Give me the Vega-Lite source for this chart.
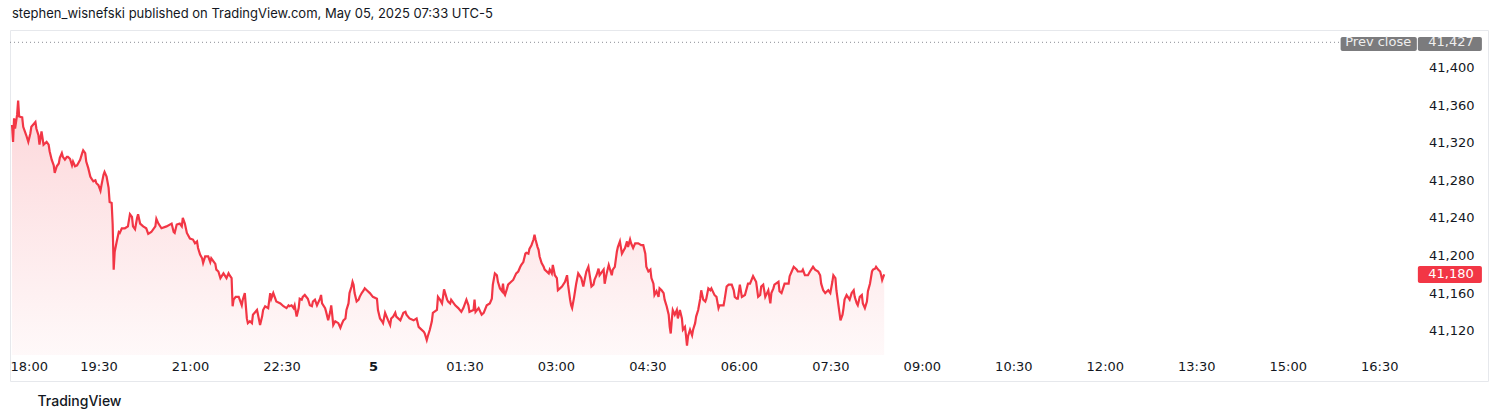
{
  "$schema": "https://vega.github.io/schema/vega-lite/v6.json",
  "width": 1478,
  "height": 351,
  "autosize": {"type": "none"},
  "padding": {"left": 10, "top": 30, "right": 12, "bottom": 39},
  "background": "#ffffff",
  "config": {"font": "Inter", "view": {"stroke": "#e6e8ec", "strokeWidth": 1}},
  "title": {
    "text": "stephen_wisnefski published on TradingView.com, May 05, 2025 07:33 UTC-5",
    "anchor": "start", "frame": "group", "offset": 9, "dx": 2,
    "fontSize": 13, "fontWeight": "normal", "color": "#131722", "font": "Inter"
  },
  "datasets": {
    "prices": [
      {"time":"2025-05-04T18:02Z","price":41339},{"time":"2025-05-04T18:03Z","price":41321},{"time":"2025-05-04T18:04Z","price":41346},{"time":"2025-05-04T18:05Z","price":41335},{"time":"2025-05-04T18:07Z","price":41350},{"time":"2025-05-04T18:08Z","price":41365},{"time":"2025-05-04T18:09Z","price":41348},{"time":"2025-05-04T18:12Z","price":41347},{"time":"2025-05-04T18:13Z","price":41337},{"time":"2025-05-04T18:16Z","price":41328},{"time":"2025-05-04T18:18Z","price":41321},{"time":"2025-05-04T18:20Z","price":41330},{"time":"2025-05-04T18:21Z","price":41337},{"time":"2025-05-04T18:25Z","price":41342},{"time":"2025-05-04T18:26Z","price":41335},{"time":"2025-05-04T18:28Z","price":41328},{"time":"2025-05-04T18:29Z","price":41318},{"time":"2025-05-04T18:30Z","price":41325},{"time":"2025-05-04T18:31Z","price":41332},{"time":"2025-05-04T18:33Z","price":41318},{"time":"2025-05-04T18:36Z","price":41321},{"time":"2025-05-04T18:38Z","price":41318},{"time":"2025-05-04T18:39Z","price":41311},{"time":"2025-05-04T18:41Z","price":41302},{"time":"2025-05-04T18:43Z","price":41296},{"time":"2025-05-04T18:44Z","price":41288},{"time":"2025-05-04T18:46Z","price":41295},{"time":"2025-05-04T18:48Z","price":41298},{"time":"2025-05-04T18:49Z","price":41304},{"time":"2025-05-04T18:51Z","price":41309},{"time":"2025-05-04T18:52Z","price":41305},{"time":"2025-05-04T18:54Z","price":41302},{"time":"2025-05-04T18:56Z","price":41305},{"time":"2025-05-04T18:57Z","price":41305},{"time":"2025-05-04T18:59Z","price":41303},
      {"time":"2025-05-04T19:01Z","price":41296},{"time":"2025-05-04T19:02Z","price":41300},{"time":"2025-05-04T19:04Z","price":41295},{"time":"2025-05-04T19:06Z","price":41296},{"time":"2025-05-04T19:07Z","price":41298},{"time":"2025-05-04T19:09Z","price":41302},{"time":"2025-05-04T19:11Z","price":41309},{"time":"2025-05-04T19:12Z","price":41312},{"time":"2025-05-04T19:14Z","price":41309},{"time":"2025-05-04T19:15Z","price":41300},{"time":"2025-05-04T19:17Z","price":41293},{"time":"2025-05-04T19:19Z","price":41284},{"time":"2025-05-04T19:20Z","price":41282},{"time":"2025-05-04T19:22Z","price":41279},{"time":"2025-05-04T19:24Z","price":41280},{"time":"2025-05-04T19:25Z","price":41277},{"time":"2025-05-04T19:27Z","price":41275},{"time":"2025-05-04T19:29Z","price":41269},{"time":"2025-05-04T19:30Z","price":41275},{"time":"2025-05-04T19:32Z","price":41286},{"time":"2025-05-04T19:33Z","price":41289},{"time":"2025-05-04T19:35Z","price":41284},{"time":"2025-05-04T19:37Z","price":41272},{"time":"2025-05-04T19:38Z","price":41257},{"time":"2025-05-04T19:40Z","price":41256},{"time":"2025-05-04T19:41Z","price":41233},{"time":"2025-05-04T19:42Z","price":41185},{"time":"2025-05-04T19:43Z","price":41204},{"time":"2025-05-04T19:45Z","price":41215},{"time":"2025-05-04T19:47Z","price":41225},{"time":"2025-05-04T19:48Z","price":41224},{"time":"2025-05-04T19:50Z","price":41229},{"time":"2025-05-04T19:53Z","price":41229},{"time":"2025-05-04T19:56Z","price":41231},{"time":"2025-05-04T19:58Z","price":41244},
      {"time":"2025-05-04T20:00Z","price":41241},{"time":"2025-05-04T20:01Z","price":41231},{"time":"2025-05-04T20:03Z","price":41228},{"time":"2025-05-04T20:05Z","price":41240},{"time":"2025-05-04T20:06Z","price":41244},{"time":"2025-05-04T20:08Z","price":41234},{"time":"2025-05-04T20:11Z","price":41231},{"time":"2025-05-04T20:14Z","price":41229},{"time":"2025-05-04T20:16Z","price":41223},{"time":"2025-05-04T20:19Z","price":41225},{"time":"2025-05-04T20:23Z","price":41231},{"time":"2025-05-04T20:24Z","price":41239},{"time":"2025-05-04T20:26Z","price":41234},{"time":"2025-05-04T20:29Z","price":41229},{"time":"2025-05-04T20:34Z","price":41231},{"time":"2025-05-04T20:39Z","price":41234},{"time":"2025-05-04T20:41Z","price":41225},{"time":"2025-05-04T20:42Z","price":41224},{"time":"2025-05-04T20:44Z","price":41233},{"time":"2025-05-04T20:47Z","price":41234},{"time":"2025-05-04T20:49Z","price":41231},{"time":"2025-05-04T20:50Z","price":41240},{"time":"2025-05-04T20:52Z","price":41234},{"time":"2025-05-04T20:54Z","price":41224},{"time":"2025-05-04T20:57Z","price":41218},
      {"time":"2025-05-04T21:00Z","price":41217},{"time":"2025-05-04T21:02Z","price":41213},{"time":"2025-05-04T21:04Z","price":41215},{"time":"2025-05-04T21:05Z","price":41208},{"time":"2025-05-04T21:07Z","price":41201},{"time":"2025-05-04T21:09Z","price":41197},{"time":"2025-05-04T21:10Z","price":41192},{"time":"2025-05-04T21:12Z","price":41199},{"time":"2025-05-04T21:15Z","price":41199},{"time":"2025-05-04T21:17Z","price":41193},{"time":"2025-05-04T21:18Z","price":41197},{"time":"2025-05-04T21:22Z","price":41191},{"time":"2025-05-04T21:23Z","price":41185},{"time":"2025-05-04T21:25Z","price":41183},{"time":"2025-05-04T21:27Z","price":41176},{"time":"2025-05-04T21:30Z","price":41181},{"time":"2025-05-04T21:33Z","price":41176},{"time":"2025-05-04T21:35Z","price":41181},{"time":"2025-05-04T21:36Z","price":41179},{"time":"2025-05-04T21:38Z","price":41176},{"time":"2025-05-04T21:39Z","price":41146},{"time":"2025-05-04T21:40Z","price":41153},{"time":"2025-05-04T21:42Z","price":41156},{"time":"2025-05-04T21:45Z","price":41156},{"time":"2025-05-04T21:46Z","price":41153},{"time":"2025-05-04T21:48Z","price":41147},{"time":"2025-05-04T21:49Z","price":41153},{"time":"2025-05-04T21:51Z","price":41160},{"time":"2025-05-04T21:53Z","price":41133},{"time":"2025-05-04T21:54Z","price":41128},{"time":"2025-05-04T21:56Z","price":41130},{"time":"2025-05-04T21:58Z","price":41128},{"time":"2025-05-04T21:59Z","price":41137},
      {"time":"2025-05-04T22:03Z","price":41142},{"time":"2025-05-04T22:04Z","price":41137},{"time":"2025-05-04T22:06Z","price":41126},{"time":"2025-05-04T22:08Z","price":41135},{"time":"2025-05-04T22:09Z","price":41142},{"time":"2025-05-04T22:11Z","price":41146},{"time":"2025-05-04T22:14Z","price":41144},{"time":"2025-05-04T22:16Z","price":41160},{"time":"2025-05-04T22:17Z","price":41154},{"time":"2025-05-04T22:19Z","price":41160},{"time":"2025-05-04T22:21Z","price":41154},{"time":"2025-05-04T22:22Z","price":41151},{"time":"2025-05-04T22:26Z","price":41149},{"time":"2025-05-04T22:29Z","price":41146},{"time":"2025-05-04T22:32Z","price":41144},{"time":"2025-05-04T22:34Z","price":41147},{"time":"2025-05-04T22:35Z","price":41146},{"time":"2025-05-04T22:37Z","price":41147},{"time":"2025-05-04T22:39Z","price":41144},{"time":"2025-05-04T22:40Z","price":41147},{"time":"2025-05-04T22:42Z","price":41135},{"time":"2025-05-04T22:44Z","price":41144},{"time":"2025-05-04T22:45Z","price":41154},{"time":"2025-05-04T22:47Z","price":41153},{"time":"2025-05-04T22:48Z","price":41156},{"time":"2025-05-04T22:50Z","price":41158},{"time":"2025-05-04T22:53Z","price":41154},{"time":"2025-05-04T22:55Z","price":41147},{"time":"2025-05-04T22:57Z","price":41146},{"time":"2025-05-04T22:58Z","price":41151},
      {"time":"2025-05-04T23:00Z","price":41153},{"time":"2025-05-04T23:02Z","price":41147},{"time":"2025-05-04T23:05Z","price":41154},{"time":"2025-05-04T23:06Z","price":41158},{"time":"2025-05-04T23:07Z","price":41149},{"time":"2025-05-04T23:10Z","price":41144},{"time":"2025-05-04T23:11Z","price":41140},{"time":"2025-05-04T23:13Z","price":41131},{"time":"2025-05-04T23:15Z","price":41140},{"time":"2025-05-04T23:16Z","price":41147},{"time":"2025-05-04T23:17Z","price":41137},{"time":"2025-05-04T23:18Z","price":41126},{"time":"2025-05-04T23:20Z","price":41130},{"time":"2025-05-04T23:23Z","price":41128},{"time":"2025-05-04T23:25Z","price":41123},{"time":"2025-05-04T23:26Z","price":41126},{"time":"2025-05-04T23:28Z","price":41131},{"time":"2025-05-04T23:30Z","price":41133},{"time":"2025-05-04T23:31Z","price":41142},{"time":"2025-05-04T23:33Z","price":41149},{"time":"2025-05-04T23:34Z","price":41160},{"time":"2025-05-04T23:36Z","price":41167},{"time":"2025-05-04T23:37Z","price":41172},{"time":"2025-05-04T23:38Z","price":41169},{"time":"2025-05-04T23:39Z","price":41160},{"time":"2025-05-04T23:41Z","price":41151},{"time":"2025-05-04T23:43Z","price":41153},{"time":"2025-05-04T23:44Z","price":41156},{"time":"2025-05-04T23:46Z","price":41160},{"time":"2025-05-04T23:48Z","price":41163},{"time":"2025-05-04T23:49Z","price":41165},{"time":"2025-05-04T23:51Z","price":41163},{"time":"2025-05-04T23:54Z","price":41160},{"time":"2025-05-04T23:57Z","price":41156},
      {"time":"2025-05-05T00:01Z","price":41154},{"time":"2025-05-05T00:02Z","price":41142},{"time":"2025-05-05T00:04Z","price":41133},{"time":"2025-05-05T00:06Z","price":41130},{"time":"2025-05-05T00:07Z","price":41128},{"time":"2025-05-05T00:09Z","price":41139},{"time":"2025-05-05T00:12Z","price":41131},{"time":"2025-05-05T00:14Z","price":41126},{"time":"2025-05-05T00:15Z","price":41133},{"time":"2025-05-05T00:17Z","price":41135},{"time":"2025-05-05T00:19Z","price":41139},{"time":"2025-05-05T00:20Z","price":41135},{"time":"2025-05-05T00:24Z","price":41131},{"time":"2025-05-05T00:27Z","price":41139},{"time":"2025-05-05T00:29Z","price":41140},{"time":"2025-05-05T00:30Z","price":41137},{"time":"2025-05-05T00:33Z","price":41133},{"time":"2025-05-05T00:37Z","price":41131},{"time":"2025-05-05T00:40Z","price":41133},{"time":"2025-05-05T00:42Z","price":41124},{"time":"2025-05-05T00:43Z","price":41123},{"time":"2025-05-05T00:47Z","price":41119},{"time":"2025-05-05T00:48Z","price":41117},{"time":"2025-05-05T00:50Z","price":41110},{"time":"2025-05-05T00:51Z","price":41114},{"time":"2025-05-05T00:53Z","price":41121},{"time":"2025-05-05T00:55Z","price":41130},{"time":"2025-05-05T00:56Z","price":41139},
      {"time":"2025-05-05T01:00Z","price":41142},{"time":"2025-05-05T01:01Z","price":41156},{"time":"2025-05-05T01:03Z","price":41153},{"time":"2025-05-05T01:05Z","price":41149},{"time":"2025-05-05T01:06Z","price":41156},{"time":"2025-05-05T01:07Z","price":41164},{"time":"2025-05-05T01:10Z","price":41153},{"time":"2025-05-05T01:11Z","price":41151},{"time":"2025-05-05T01:13Z","price":41149},{"time":"2025-05-05T01:14Z","price":41153},{"time":"2025-05-05T01:18Z","price":41147},{"time":"2025-05-05T01:21Z","price":41144},{"time":"2025-05-05T01:24Z","price":41140},{"time":"2025-05-05T01:26Z","price":41144},{"time":"2025-05-05T01:29Z","price":41153},{"time":"2025-05-05T01:31Z","price":41147},{"time":"2025-05-05T01:32Z","price":41140},{"time":"2025-05-05T01:36Z","price":41142},{"time":"2025-05-05T01:37Z","price":41153},{"time":"2025-05-05T01:38Z","price":41140},{"time":"2025-05-05T01:41Z","price":41144},{"time":"2025-05-05T01:44Z","price":41137},{"time":"2025-05-05T01:46Z","price":41139},{"time":"2025-05-05T01:49Z","price":41147},{"time":"2025-05-05T01:52Z","price":41149},{"time":"2025-05-05T01:54Z","price":41154},{"time":"2025-05-05T01:55Z","price":41169},{"time":"2025-05-05T01:57Z","price":41181},{"time":"2025-05-05T01:59Z","price":41179},
      {"time":"2025-05-05T02:00Z","price":41172},{"time":"2025-05-05T02:02Z","price":41165},{"time":"2025-05-05T02:04Z","price":41162},{"time":"2025-05-05T02:05Z","price":41170},{"time":"2025-05-05T02:06Z","price":41160},{"time":"2025-05-05T02:07Z","price":41158},{"time":"2025-05-05T02:09Z","price":41165},{"time":"2025-05-05T02:10Z","price":41169},{"time":"2025-05-05T02:13Z","price":41172},{"time":"2025-05-05T02:15Z","price":41174},{"time":"2025-05-05T02:18Z","price":41181},{"time":"2025-05-05T02:20Z","price":41183},{"time":"2025-05-05T02:22Z","price":41188},{"time":"2025-05-05T02:23Z","price":41190},{"time":"2025-05-05T02:25Z","price":41193},{"time":"2025-05-05T02:27Z","price":41202},{"time":"2025-05-05T02:28Z","price":41203},{"time":"2025-05-05T02:30Z","price":41202},{"time":"2025-05-05T02:31Z","price":41207},{"time":"2025-05-05T02:33Z","price":41211},{"time":"2025-05-05T02:35Z","price":41217},{"time":"2025-05-05T02:36Z","price":41222},{"time":"2025-05-05T02:37Z","price":41217},{"time":"2025-05-05T02:39Z","price":41209},{"time":"2025-05-05T02:40Z","price":41206},{"time":"2025-05-05T02:41Z","price":41199},{"time":"2025-05-05T02:43Z","price":41192},{"time":"2025-05-05T02:45Z","price":41188},{"time":"2025-05-05T02:46Z","price":41185},{"time":"2025-05-05T02:50Z","price":41181},{"time":"2025-05-05T02:51Z","price":41185},{"time":"2025-05-05T02:53Z","price":41181},{"time":"2025-05-05T02:54Z","price":41190},{"time":"2025-05-05T02:56Z","price":41179},{"time":"2025-05-05T02:58Z","price":41176},{"time":"2025-05-05T02:59Z","price":41163},
      {"time":"2025-05-05T03:01Z","price":41165},{"time":"2025-05-05T03:03Z","price":41167},{"time":"2025-05-05T03:06Z","price":41172},{"time":"2025-05-05T03:08Z","price":41179},{"time":"2025-05-05T03:09Z","price":41169},{"time":"2025-05-05T03:11Z","price":41153},{"time":"2025-05-05T03:12Z","price":41147},{"time":"2025-05-05T03:13Z","price":41144},{"time":"2025-05-05T03:15Z","price":41156},{"time":"2025-05-05T03:16Z","price":41163},{"time":"2025-05-05T03:17Z","price":41170},{"time":"2025-05-05T03:19Z","price":41181},{"time":"2025-05-05T03:22Z","price":41176},{"time":"2025-05-05T03:24Z","price":41167},{"time":"2025-05-05T03:26Z","price":41178},{"time":"2025-05-05T03:27Z","price":41183},{"time":"2025-05-05T03:29Z","price":41188},{"time":"2025-05-05T03:30Z","price":41181},{"time":"2025-05-05T03:32Z","price":41167},{"time":"2025-05-05T03:34Z","price":41169},{"time":"2025-05-05T03:35Z","price":41174},{"time":"2025-05-05T03:37Z","price":41179},{"time":"2025-05-05T03:39Z","price":41186},{"time":"2025-05-05T03:40Z","price":41179},{"time":"2025-05-05T03:44Z","price":41185},{"time":"2025-05-05T03:45Z","price":41170},{"time":"2025-05-05T03:47Z","price":41181},{"time":"2025-05-05T03:49Z","price":41190},{"time":"2025-05-05T03:52Z","price":41179},{"time":"2025-05-05T03:53Z","price":41185},{"time":"2025-05-05T03:55Z","price":41188},{"time":"2025-05-05T03:57Z","price":41204},{"time":"2025-05-05T03:58Z","price":41209},
      {"time":"2025-05-05T04:00Z","price":41215},{"time":"2025-05-05T04:02Z","price":41202},{"time":"2025-05-05T04:05Z","price":41208},{"time":"2025-05-05T04:07Z","price":41215},{"time":"2025-05-05T04:08Z","price":41209},{"time":"2025-05-05T04:10Z","price":41217},{"time":"2025-05-05T04:11Z","price":41213},{"time":"2025-05-05T04:13Z","price":41208},{"time":"2025-05-05T04:15Z","price":41213},{"time":"2025-05-05T04:18Z","price":41213},{"time":"2025-05-05T04:21Z","price":41211},{"time":"2025-05-05T04:23Z","price":41211},{"time":"2025-05-05T04:25Z","price":41202},{"time":"2025-05-05T04:26Z","price":41188},{"time":"2025-05-05T04:28Z","price":41183},{"time":"2025-05-05T04:30Z","price":41185},{"time":"2025-05-05T04:31Z","price":41176},{"time":"2025-05-05T04:33Z","price":41170},{"time":"2025-05-05T04:34Z","price":41158},{"time":"2025-05-05T04:36Z","price":41162},{"time":"2025-05-05T04:38Z","price":41156},{"time":"2025-05-05T04:39Z","price":41165},{"time":"2025-05-05T04:41Z","price":41163},{"time":"2025-05-05T04:43Z","price":41160},{"time":"2025-05-05T04:44Z","price":41153},{"time":"2025-05-05T04:46Z","price":41146},{"time":"2025-05-05T04:48Z","price":41137},{"time":"2025-05-05T04:49Z","price":41124},{"time":"2025-05-05T04:50Z","price":41117},{"time":"2025-05-05T04:51Z","price":41131},{"time":"2025-05-05T04:52Z","price":41142},{"time":"2025-05-05T04:54Z","price":41137},{"time":"2025-05-05T04:56Z","price":41142},{"time":"2025-05-05T04:57Z","price":41133},{"time":"2025-05-05T04:59Z","price":41142},
      {"time":"2025-05-05T05:01Z","price":41133},{"time":"2025-05-05T05:02Z","price":41121},{"time":"2025-05-05T05:04Z","price":41124},{"time":"2025-05-05T05:05Z","price":41115},{"time":"2025-05-05T05:06Z","price":41104},{"time":"2025-05-05T05:07Z","price":41114},{"time":"2025-05-05T05:09Z","price":41121},{"time":"2025-05-05T05:11Z","price":41115},{"time":"2025-05-05T05:12Z","price":41121},{"time":"2025-05-05T05:14Z","price":41128},{"time":"2025-05-05T05:15Z","price":41135},{"time":"2025-05-05T05:17Z","price":41142},{"time":"2025-05-05T05:19Z","price":41154},{"time":"2025-05-05T05:20Z","price":41163},{"time":"2025-05-05T05:22Z","price":41153},{"time":"2025-05-05T05:24Z","price":41151},{"time":"2025-05-05T05:25Z","price":41154},{"time":"2025-05-05T05:27Z","price":41165},{"time":"2025-05-05T05:29Z","price":41163},{"time":"2025-05-05T05:30Z","price":41165},{"time":"2025-05-05T05:33Z","price":41158},{"time":"2025-05-05T05:35Z","price":41156},{"time":"2025-05-05T05:37Z","price":41144},{"time":"2025-05-05T05:38Z","price":41147},{"time":"2025-05-05T05:42Z","price":41147},{"time":"2025-05-05T05:43Z","price":41153},{"time":"2025-05-05T05:45Z","price":41167},{"time":"2025-05-05T05:47Z","price":41169},{"time":"2025-05-05T05:50Z","price":41169},{"time":"2025-05-05T05:52Z","price":41163},{"time":"2025-05-05T05:53Z","price":41156},{"time":"2025-05-05T05:55Z","price":41154},{"time":"2025-05-05T05:56Z","price":41154},{"time":"2025-05-05T05:58Z","price":41169},
      {"time":"2025-05-05T06:00Z","price":41156},{"time":"2025-05-05T06:03Z","price":41158},{"time":"2025-05-05T06:06Z","price":41170},{"time":"2025-05-05T06:08Z","price":41170},{"time":"2025-05-05T06:11Z","price":41178},{"time":"2025-05-05T06:13Z","price":41174},{"time":"2025-05-05T06:14Z","price":41172},{"time":"2025-05-05T06:16Z","price":41156},{"time":"2025-05-05T06:18Z","price":41158},{"time":"2025-05-05T06:19Z","price":41167},{"time":"2025-05-05T06:21Z","price":41169},{"time":"2025-05-05T06:23Z","price":41156},{"time":"2025-05-05T06:26Z","price":41163},{"time":"2025-05-05T06:28Z","price":41149},{"time":"2025-05-05T06:29Z","price":41160},{"time":"2025-05-05T06:31Z","price":41165},{"time":"2025-05-05T06:32Z","price":41169},{"time":"2025-05-05T06:36Z","price":41172},{"time":"2025-05-05T06:37Z","price":41162},{"time":"2025-05-05T06:39Z","price":41160},{"time":"2025-05-05T06:42Z","price":41170},{"time":"2025-05-05T06:46Z","price":41170},{"time":"2025-05-05T06:47Z","price":41178},{"time":"2025-05-05T06:49Z","price":41183},{"time":"2025-05-05T06:51Z","price":41188},{"time":"2025-05-05T06:54Z","price":41185},{"time":"2025-05-05T06:55Z","price":41183},{"time":"2025-05-05T06:59Z","price":41183},
      {"time":"2025-05-05T07:00Z","price":41185},{"time":"2025-05-05T07:02Z","price":41179},{"time":"2025-05-05T07:05Z","price":41179},{"time":"2025-05-05T07:07Z","price":41183},{"time":"2025-05-05T07:10Z","price":41188},{"time":"2025-05-05T07:12Z","price":41185},{"time":"2025-05-05T07:15Z","price":41183},{"time":"2025-05-05T07:17Z","price":41179},{"time":"2025-05-05T07:18Z","price":41170},{"time":"2025-05-05T07:20Z","price":41163},{"time":"2025-05-05T07:22Z","price":41160},{"time":"2025-05-05T07:25Z","price":41163},{"time":"2025-05-05T07:27Z","price":41160},{"time":"2025-05-05T07:29Z","price":41172},{"time":"2025-05-05T07:30Z","price":41179},{"time":"2025-05-05T07:32Z","price":41176},{"time":"2025-05-05T07:33Z","price":41163},{"time":"2025-05-05T07:35Z","price":41147},{"time":"2025-05-05T07:36Z","price":41139},{"time":"2025-05-05T07:37Z","price":41131},{"time":"2025-05-05T07:39Z","price":41137},{"time":"2025-05-05T07:40Z","price":41144},{"time":"2025-05-05T07:41Z","price":41153},{"time":"2025-05-05T07:43Z","price":41158},{"time":"2025-05-05T07:46Z","price":41153},{"time":"2025-05-05T07:48Z","price":41160},{"time":"2025-05-05T07:50Z","price":41163},{"time":"2025-05-05T07:51Z","price":41156},{"time":"2025-05-05T07:53Z","price":41149},{"time":"2025-05-05T07:54Z","price":41147},{"time":"2025-05-05T07:56Z","price":41156},{"time":"2025-05-05T07:58Z","price":41158},{"time":"2025-05-05T07:59Z","price":41149},
      {"time":"2025-05-05T08:01Z","price":41144},{"time":"2025-05-05T08:03Z","price":41151},{"time":"2025-05-05T08:04Z","price":41162},{"time":"2025-05-05T08:06Z","price":41170},{"time":"2025-05-05T08:08Z","price":41183},{"time":"2025-05-05T08:09Z","price":41185},{"time":"2025-05-05T08:11Z","price":41186},{"time":"2025-05-05T08:12Z","price":41188},{"time":"2025-05-05T08:14Z","price":41185},{"time":"2025-05-05T08:16Z","price":41183},{"time":"2025-05-05T08:17Z","price":41179},{"time":"2025-05-05T08:18Z","price":41174},{"time":"2025-05-05T08:20Z","price":41180}
    ],
    "prevClose": [{"label": "Prev close", "price": 41427}],
    "last": [{"label": "Last", "price": 41180}]
  },
  "layer": [
    {
      "data": {"name": "prices"},
      "mark": {"type": "area", "clip": true, "color": {"gradient": "linear", "x1": 0, "y1": 0, "x2": 0, "y2": 1, "stops": [{"offset": 0, "color": "rgba(242,54,69,0.2)"}, {"offset": 1, "color": "rgba(242,54,69,0.03)"}]}},
      "encoding": {
        "x": {
          "field": "time", "type": "temporal",
          "scale": {"type": "utc", "domain": [{"year": 2025, "month": 5, "date": 4, "hours": 18, "utc": true}, {"year": 2025, "month": 5, "date": 5, "hours": 18, "minutes": 14, "utc": true}]},
          "axis": {
            "values": [
              {"year": 2025, "month": 5, "date": 4, "hours": 18, "utc": true},
              {"year": 2025, "month": 5, "date": 4, "hours": 19, "minutes": 30, "utc": true},
              {"year": 2025, "month": 5, "date": 4, "hours": 21, "utc": true},
              {"year": 2025, "month": 5, "date": 4, "hours": 22, "minutes": 30, "utc": true},
              {"year": 2025, "month": 5, "date": 5, "hours": 0, "utc": true},
              {"year": 2025, "month": 5, "date": 5, "hours": 1, "minutes": 30, "utc": true},
              {"year": 2025, "month": 5, "date": 5, "hours": 3, "utc": true},
              {"year": 2025, "month": 5, "date": 5, "hours": 4, "minutes": 30, "utc": true},
              {"year": 2025, "month": 5, "date": 5, "hours": 6, "utc": true},
              {"year": 2025, "month": 5, "date": 5, "hours": 7, "minutes": 30, "utc": true},
              {"year": 2025, "month": 5, "date": 5, "hours": 9, "utc": true},
              {"year": 2025, "month": 5, "date": 5, "hours": 10, "minutes": 30, "utc": true},
              {"year": 2025, "month": 5, "date": 5, "hours": 12, "utc": true},
              {"year": 2025, "month": 5, "date": 5, "hours": 13, "minutes": 30, "utc": true},
              {"year": 2025, "month": 5, "date": 5, "hours": 15, "utc": true},
              {"year": 2025, "month": 5, "date": 5, "hours": 16, "minutes": 30, "utc": true}
            ],
            "labelExpr": "utchours(datum.value) == 0 && utcminutes(datum.value) == 0 ? utcFormat(datum.value, '%-d') : utcFormat(datum.value, '%H:%M')",
            "labelFontWeight": {"condition": {"test": "utchours(datum.value) == 0 && utcminutes(datum.value) == 0", "value": "bold"}, "value": "normal"},
            "labelOffset": {"condition": {"test": "datum.index == 0", "value": 0}, "value": -3},
            "labelFlush": true,
            "labelOverlap": false,
            "labelFont": "DejaVu Sans",
            "labelFontSize": 13,
            "labelColor": "#131722",
            "labelPadding": 5,
            "offset": -26,
            "domain": false,
            "ticks": false,
            "grid": false,
            "title": "TradingView",
            "titleX": 27,
            "titleY": 46,
            "titleAlign": "left",
            "titleBaseline": "middle",
            "titleFont": "Inter",
            "titleFontSize": 14,
            "titleFontWeight": 500,
            "titleColor": "#131722"
          }
        },
        "y": {
          "field": "price", "type": "quantitative",
          "scale": {"domain": [41066.4, 41440.1], "nice": false, "zero": false},
          "axis": {
            "orient": "right",
            "values": [41120, 41160, 41200, 41240, 41280, 41320, 41360, 41400],
            "format": ",d",
            "offset": -14,
            "labelAlign": "right",
            "labelPadding": 0,
            "labelFont": "DejaVu Sans",
            "labelFontSize": 13,
            "labelColor": "#131722",
            "ticks": false,
            "domain": false,
            "grid": false,
            "title": null
          }
        },
        "y2": {"datum": 41094}
      }
    },
    {
      "data": {"name": "prices"},
      "mark": {"type": "line", "color": "#f23645", "strokeWidth": 2.2, "clip": true},
      "encoding": {
        "x": {"field": "time", "type": "temporal"},
        "y": {"field": "price", "type": "quantitative"}
      }
    },
    {
      "data": {"name": "prevClose"},
      "mark": {"type": "rule", "color": "#8a8d94", "strokeWidth": 1, "strokeDash": [1, 3]},
      "encoding": {
        "x": {"datum": {"year": 2025, "month": 5, "date": 4, "hours": 18, "utc": true}, "type": "temporal"},
        "x2": {"datum": {"year": 2025, "month": 5, "date": 5, "hours": 15, "minutes": 49, "utc": true}},
        "y": {"field": "price", "type": "quantitative"}
      }
    },
    {
      "data": {"name": "prevClose"},
      "mark": {"type": "rect", "color": "#7b7b7d", "cornerRadius": 2},
      "encoding": {
        "x": {"datum": {"year": 2025, "month": 5, "date": 5, "hours": 15, "minutes": 49, "utc": true}, "type": "temporal"},
        "x2": {"datum": {"year": 2025, "month": 5, "date": 5, "hours": 17, "minutes": 4, "utc": true}},
        "y": {"datum": 41432.7, "type": "quantitative"},
        "y2": {"datum": 41417.8}
      }
    },
    {
      "data": {"name": "prevClose"},
      "mark": {"type": "rect", "color": "#7b7b7d", "cornerRadius": 2},
      "encoding": {
        "x": {"datum": {"year": 2025, "month": 5, "date": 5, "hours": 17, "minutes": 5, "utc": true}, "type": "temporal"},
        "x2": {"datum": {"year": 2025, "month": 5, "date": 5, "hours": 18, "minutes": 8, "utc": true}},
        "y": {"datum": 41432.7, "type": "quantitative"},
        "y2": {"datum": 41417.8}
      }
    },
    {
      "data": {"name": "prevClose"},
      "mark": {"type": "text", "color": "#eeeeee", "fontSize": 13, "font": "DejaVu Sans", "align": "center", "baseline": "middle"},
      "encoding": {
        "x": {"datum": {"year": 2025, "month": 5, "date": 5, "hours": 16, "minutes": 26, "utc": true}, "type": "temporal"},
        "y": {"field": "price", "type": "quantitative"},
        "text": {"field": "label"}
      }
    },
    {
      "data": {"name": "prevClose"},
      "mark": {"type": "text", "color": "#eeeeee", "fontSize": 13, "font": "DejaVu Sans", "align": "right", "baseline": "middle"},
      "encoding": {
        "x": {"datum": {"year": 2025, "month": 5, "date": 5, "hours": 18, "utc": true}, "type": "temporal"},
        "y": {"field": "price", "type": "quantitative"},
        "text": {"field": "price", "type": "quantitative", "format": ",d"}
      }
    },
    {
      "data": {"name": "last"},
      "mark": {"type": "rect", "color": "#f23645", "cornerRadius": 2},
      "encoding": {
        "x": {"datum": {"year": 2025, "month": 5, "date": 5, "hours": 17, "minutes": 5, "utc": true}, "type": "temporal"},
        "x2": {"datum": {"year": 2025, "month": 5, "date": 5, "hours": 18, "minutes": 8, "utc": true}},
        "y": {"datum": 41188.9, "type": "quantitative"},
        "y2": {"datum": 41170.8}
      }
    },
    {
      "data": {"name": "last"},
      "mark": {"type": "text", "color": "#ffffff", "fontSize": 13, "font": "DejaVu Sans", "align": "right", "baseline": "middle"},
      "encoding": {
        "x": {"datum": {"year": 2025, "month": 5, "date": 5, "hours": 18, "utc": true}, "type": "temporal"},
        "y": {"field": "price", "type": "quantitative"},
        "text": {"field": "price", "type": "quantitative", "format": ",d"}
      }
    }
  ]
}
